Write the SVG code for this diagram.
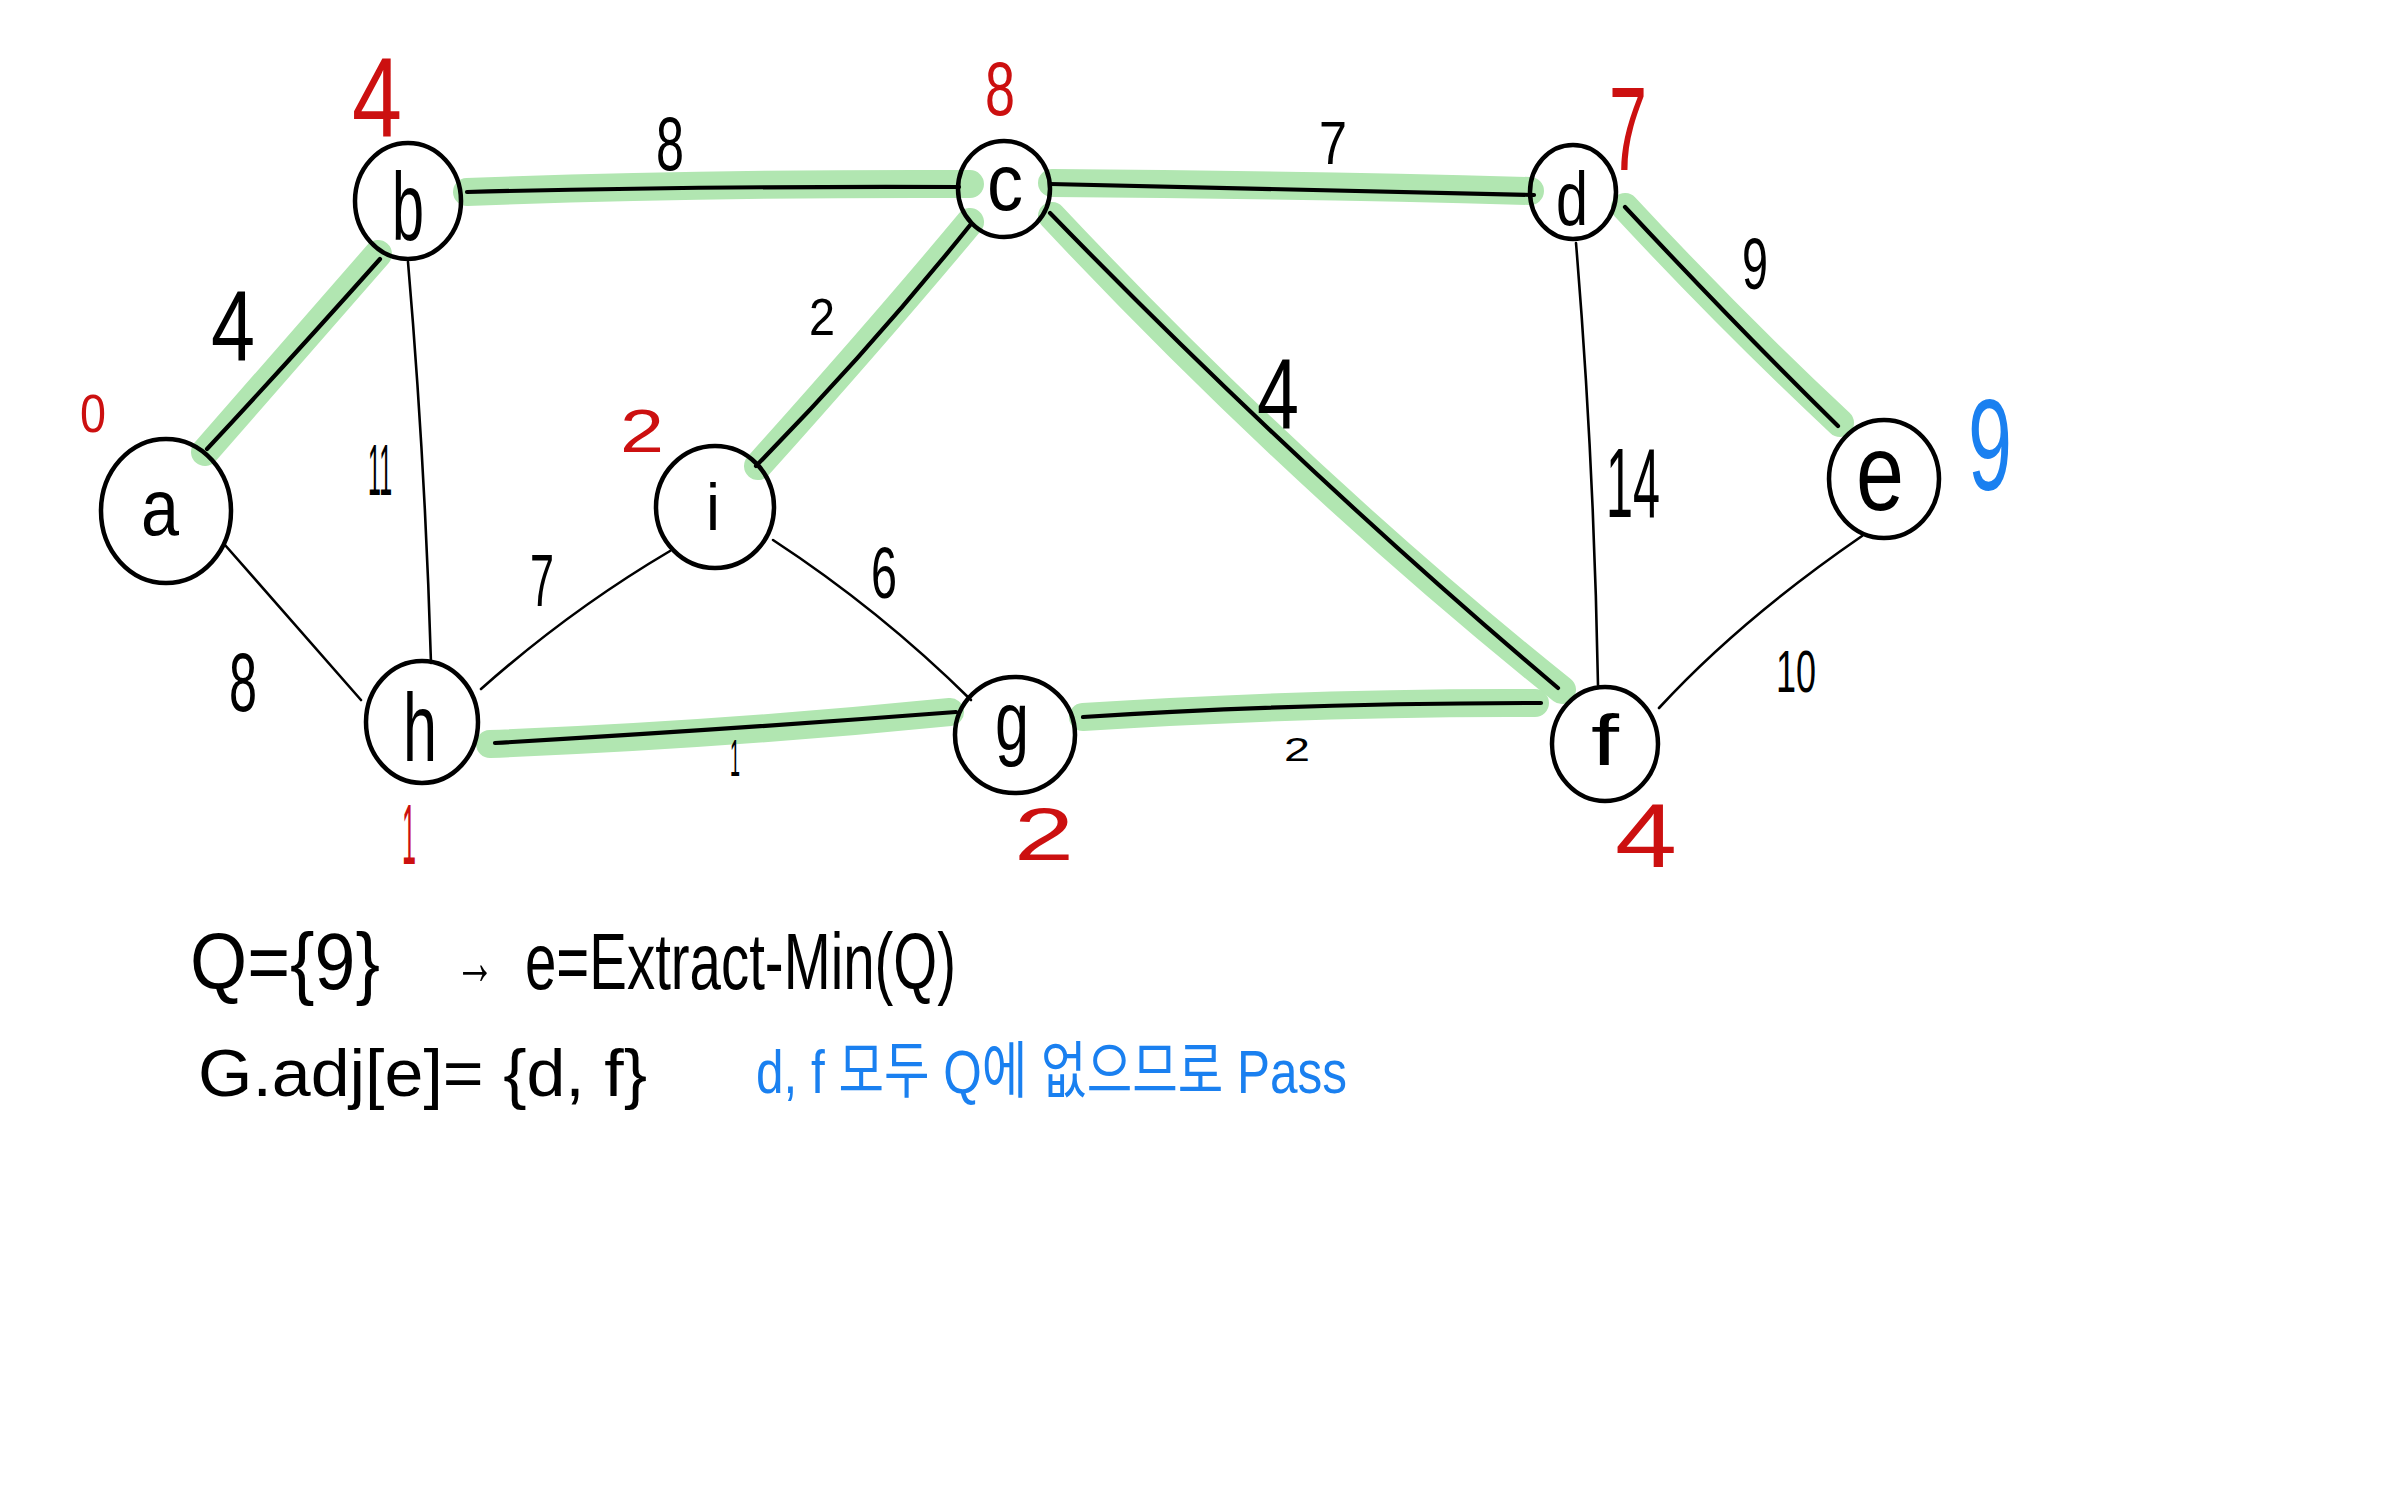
<svg xmlns="http://www.w3.org/2000/svg" width="2386" height="1491" viewBox="0 0 2386 1491">
<style>
.hl{fill:none;stroke:#b1e6b1;stroke-width:28;stroke-linecap:round}
.e{fill:none;stroke:#000;stroke-width:2.6;stroke-linecap:round}
.em{fill:none;stroke:#000;stroke-width:4.2;stroke-linecap:round}
.n ellipse{fill:none;stroke:#000;stroke-width:4.5}
.n text{font-family:"Liberation Sans",Arial,sans-serif;fill:#000;text-anchor:middle}
.w{font-family:"Liberation Sans",Arial,sans-serif;fill:#000;text-anchor:middle}
.r{font-family:"Liberation Sans",Arial,sans-serif;fill:#cc1010;text-anchor:middle}
.b{font-family:"Liberation Sans",Arial,sans-serif;fill:#1a80f0;text-anchor:middle}
.t{font-family:"Liberation Sans","Noto Sans CJK KR",sans-serif;fill:#000}
.tb{font-family:"Liberation Sans","Noto Sans CJK KR",sans-serif;fill:#1a80f0}
</style>
<rect width="2386" height="1491" fill="#fff"/>
<g id="connectors">
  <path class="hl" d="M205 452 L378 254"/>
  <path class="hl" d="M467 192 Q700 183 970 184"/>
  <path class="hl" d="M1052 183 Q1300 185 1530 191"/>
  <path class="hl" d="M970 222 Q880 330 758 466"/>
  <path class="hl" d="M1052 216 Q1300 480 1562 690"/>
  <path class="hl" d="M1625 207 Q1730 320 1840 423"/>
  <path class="hl" d="M490 744 Q720 735 950 712"/>
  <path class="hl" d="M1083 717 Q1320 702 1535 703"/>
  <path class="em" d="M207 449 Q290 360 380 259"/>
  <path class="em" d="M467 192 Q700 186 959 187"/>
  <path class="em" d="M1050 184 Q1330 190 1534 195"/>
  <path class="em" d="M971 224 Q870 350 756 466"/>
  <path class="em" d="M1050 213 Q1300 470 1558 688"/>
  <path class="em" d="M1625 207 Q1740 330 1838 426"/>
  <path class="em" d="M495 743 Q720 730 956 712"/>
  <path class="em" d="M1083 717 Q1300 703 1541 703"/>
  <path class="e" d="M225 545 Q300 630 361 700"/>
  <path class="e" d="M408 262 Q425 460 431 663"/>
  <path class="e" d="M481 689 Q570 610 670 551"/>
  <path class="e" d="M773 540 Q880 610 971 700"/>
  <path class="e" d="M1576 243 Q1594 460 1598 685"/>
  <path class="e" d="M1862 536 Q1740 620 1659 708"/>
</g>
<g id="node-a" class="n"><ellipse cx="166" cy="511" rx="65" ry="72"/><text x="160" y="535" font-size="80" textLength="38" lengthAdjust="spacingAndGlyphs">a</text></g>
<g id="node-b" class="n"><ellipse cx="408" cy="201" rx="53" ry="58"/><text x="408" y="240" font-size="96" textLength="32" lengthAdjust="spacingAndGlyphs">b</text></g>
<g id="node-c" class="n"><ellipse cx="1004" cy="189" rx="46" ry="48"/><text x="1005" y="210" font-size="80" textLength="36" lengthAdjust="spacingAndGlyphs">c</text></g>
<g id="node-d" class="n"><ellipse cx="1573" cy="192" rx="43" ry="47"/><text x="1572" y="225" font-size="76" textLength="32" lengthAdjust="spacingAndGlyphs">d</text></g>
<g id="node-e" class="n"><ellipse cx="1884" cy="479" rx="55" ry="59"/><text x="1880" y="510" font-size="110" textLength="48" lengthAdjust="spacingAndGlyphs">e</text></g>
<g id="node-f" class="n"><ellipse cx="1605" cy="744" rx="53" ry="57"/><text x="1605" y="765" font-size="72" textLength="28" lengthAdjust="spacingAndGlyphs">f</text></g>
<g id="node-g" class="n"><ellipse cx="1015" cy="735" rx="60" ry="58"/><text x="1012" y="750" font-size="84" textLength="34" lengthAdjust="spacingAndGlyphs">g</text></g>
<g id="node-h" class="n"><ellipse cx="422" cy="722" rx="56" ry="61"/><text x="420" y="761" font-size="96" textLength="34" lengthAdjust="spacingAndGlyphs">h</text></g>
<g id="node-i" class="n"><ellipse cx="715" cy="507" rx="59" ry="61"/><text x="713" y="530" font-size="66" textLength="14" lengthAdjust="spacingAndGlyphs">i</text></g>
<g id="weights">
  <text class="w" x="233" y="361" font-size="100" textLength="44" lengthAdjust="spacingAndGlyphs">4</text>
  <text class="w" x="670" y="170" font-size="76" textLength="28" lengthAdjust="spacingAndGlyphs">8</text>
  <text class="w" x="1333" y="164" font-size="62" textLength="28" lengthAdjust="spacingAndGlyphs">7</text>
  <text class="w" x="380" y="495" font-size="72" textLength="24" lengthAdjust="spacingAndGlyphs">11</text>
  <text class="w" x="822" y="335" font-size="52" textLength="26" lengthAdjust="spacingAndGlyphs">2</text>
  <text class="w" x="1278" y="429" font-size="100" textLength="42" lengthAdjust="spacingAndGlyphs">4</text>
  <text class="w" x="1755" y="289" font-size="72" textLength="26" lengthAdjust="spacingAndGlyphs">9</text>
  <text class="w" x="1633" y="517" font-size="98" textLength="54" lengthAdjust="spacingAndGlyphs">14</text>
  <text class="w" x="542" y="606" font-size="74" textLength="24" lengthAdjust="spacingAndGlyphs">7</text>
  <text class="w" x="884" y="598" font-size="72" textLength="26" lengthAdjust="spacingAndGlyphs">6</text>
  <text class="w" x="243" y="711" font-size="84" textLength="28" lengthAdjust="spacingAndGlyphs">8</text>
  <text class="w" x="735" y="776" font-size="52" textLength="10" lengthAdjust="spacingAndGlyphs">1</text>
  <text class="w" x="1297" y="761" font-size="34" textLength="26" lengthAdjust="spacingAndGlyphs">2</text>
  <text class="w" x="1796" y="692" font-size="60" textLength="40" lengthAdjust="spacingAndGlyphs">10</text>
</g>
<g id="keys">
  <text class="r" x="377" y="137" font-size="114" textLength="50" lengthAdjust="spacingAndGlyphs">4</text>
  <text class="r" x="1000" y="115" font-size="76" textLength="30" lengthAdjust="spacingAndGlyphs">8</text>
  <text class="r" x="1628" y="170" font-size="118" textLength="38" lengthAdjust="spacingAndGlyphs">7</text>
  <text class="r" x="93" y="432" font-size="54" textLength="26" lengthAdjust="spacingAndGlyphs">0</text>
  <text class="r" x="642" y="452" font-size="62" textLength="44" lengthAdjust="spacingAndGlyphs">2</text>
  <text class="r" x="409" y="864" font-size="86" textLength="14" lengthAdjust="spacingAndGlyphs">1</text>
  <text class="r" x="1044" y="860" font-size="74" textLength="60" lengthAdjust="spacingAndGlyphs">2</text>
  <text class="r" x="1646" y="867" font-size="90" textLength="62" lengthAdjust="spacingAndGlyphs">4</text>
  <text class="b" x="1990" y="490" font-size="130" textLength="44" lengthAdjust="spacingAndGlyphs">9</text>
</g>
<g id="notes">
  <text class="t" x="190" y="989" font-size="80" textLength="190" lengthAdjust="spacingAndGlyphs">Q={9}</text>
  <text class="t" x="455" y="984" font-size="66" textLength="40" lengthAdjust="spacingAndGlyphs">→</text>
  <text class="t" x="525" y="989" font-size="80" textLength="431" lengthAdjust="spacingAndGlyphs">e=Extract-Min(Q)</text>
  <text class="t" x="198" y="1096" font-size="66" textLength="449" lengthAdjust="spacingAndGlyphs">G.adj[e]= {d, f}</text>
  <text class="tb" x="756" y="1093" font-size="62" textLength="591" lengthAdjust="spacingAndGlyphs">d, f 모두 Q에 없으므로 Pass</text>
</g>
</svg>
